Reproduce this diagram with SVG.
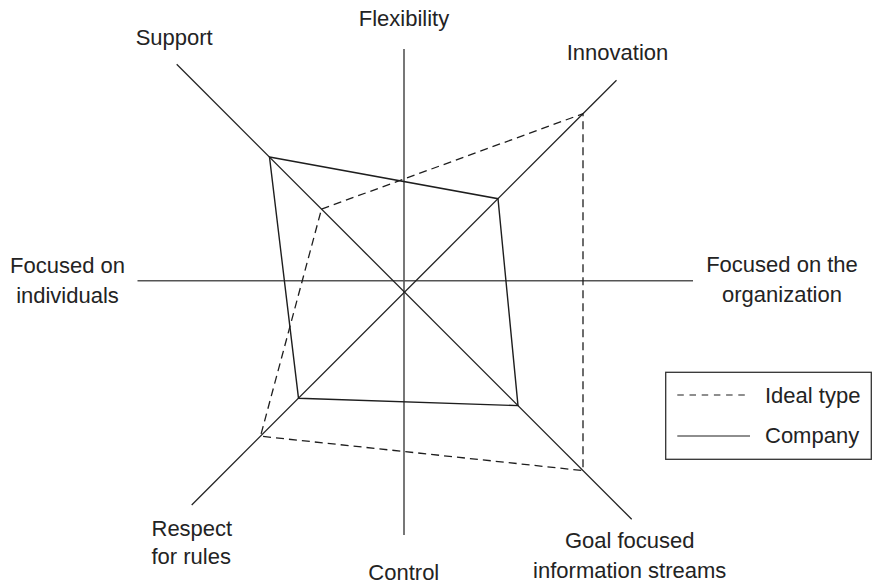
<svg xmlns="http://www.w3.org/2000/svg" width="872" height="586" viewBox="0 0 872 586">
<style>
.bg{fill:#ffffff}
.axis{stroke:#555555;stroke-width:1.6;fill:none}
.diag{stroke:#222222;stroke-width:1.3;fill:none}
.company{stroke:#1e1e1e;stroke-width:1.4;fill:none;stroke-linejoin:miter}
.ideal{stroke:#1e1e1e;stroke-width:1.3;fill:none;stroke-dasharray:8 5}
.legdash{stroke:#1e1e1e;stroke-width:1.2;fill:none;stroke-dasharray:6.5 5.7}
.legsolid{stroke:#1e1e1e;stroke-width:1.2;fill:none}
.box{stroke:#333333;stroke-width:1.3;fill:none}
text{font-family:"Liberation Sans",Arial,Helvetica,sans-serif;font-size:22px;fill:#232323}
.m{text-anchor:middle}
</style>
<rect class="bg" x="0" y="0" width="872" height="586"/>
<g id="connectors">
  <g id="axes">
    <line class="axis" x1="404" y1="49" x2="404" y2="535"/>
    <line class="axis" x1="137.5" y1="280.7" x2="693" y2="280.7"/>
    <line class="diag" x1="176.7" y1="64.3" x2="631.7" y2="519.3"/>
    <line class="diag" x1="616.5" y1="80.2" x2="191.7" y2="505"/>
  </g>
  <g id="series-ideal">
    <path class="ideal" d="M321.5,209.1 L583,113.7 L583,470.6 L260.5,436.2 Z"/>
  </g>
  <g id="series-company">
    <path class="company" d="M269.5,157 L498,198.7 L518,405.6 L298.5,398.2 Z"/>
  </g>
</g>
<g id="node-flexibility"><text class="m" x="404" y="26">Flexibility</text></g>
<g id="node-support"><text class="m" x="174.2" y="45">Support</text></g>
<g id="node-innovation"><text class="m" x="617.5" y="60">Innovation</text></g>
<g id="node-individuals">
  <text class="m" x="67.5" y="273.3">Focused on</text>
  <text class="m" x="67.5" y="302.7">individuals</text>
</g>
<g id="node-organization">
  <text class="m" x="782" y="272.3">Focused on the</text>
  <text class="m" x="782" y="301.7">organization</text>
</g>
<g id="node-respect">
  <text x="151.5" y="535.5">Respect</text>
  <text x="151.5" y="563.5">for rules</text>
</g>
<g id="node-control"><text class="m" x="403.8" y="579.5">Control</text></g>
<g id="node-goal">
  <text class="m" x="629.7" y="548.3">Goal focused</text>
  <text class="m" x="629.7" y="578.3">information streams</text>
</g>
<g id="legend">
  <rect class="box" x="665.7" y="372.3" width="205.6" height="87"/>
  <line class="legdash" x1="677.3" y1="395" x2="750" y2="395"/>
  <line class="legsolid" x1="677.3" y1="436" x2="750" y2="436"/>
  <text x="765" y="403.3">Ideal type</text>
  <text x="765" y="443.3">Company</text>
</g>
</svg>
